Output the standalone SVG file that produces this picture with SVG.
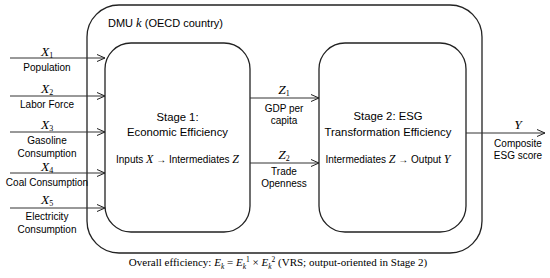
<svg xmlns="http://www.w3.org/2000/svg" width="550" height="278" viewBox="0 0 550 278">
<defs>
<marker id="arr" viewBox="0 0 10 10" refX="9" refY="5" markerWidth="10" markerHeight="10" markerUnits="userSpaceOnUse" orient="auto">
<path d="M1,1.5 L9,5 L1,8.5" fill="none" stroke="#222" stroke-width="1"/>
</marker>
</defs>
<style>
.box{fill:none;stroke:#222;stroke-width:1.3}
.ln{stroke:#333;stroke-width:1;fill:none;marker-end:url(#arr)}
.t{font-family:"Liberation Sans",Arial,sans-serif;fill:#000;text-anchor:middle}
.lab{font-size:10px}
.st{font-size:11.3px}
.m{font-family:"Liberation Serif","Times New Roman",serif;font-style:italic}
.sub{font-family:"Liberation Serif","Times New Roman",serif;font-style:normal;font-size:8px}
.cap{font-family:"Liberation Serif","Times New Roman",serif;font-size:11px;fill:#000;text-anchor:middle}
</style>
<g id="dmu">
<rect class="box" x="87" y="5" width="395" height="248" rx="32" ry="32"/>
<text class="t" x="108" y="27" style="text-anchor:start;font-size:11px">DMU <tspan class="m" font-size="12.5">k</tspan> (OECD country)</text>
</g>
<g id="stage1">
<rect class="box" x="105" y="43" width="145" height="189" rx="26" ry="26"/>
<text class="t st" x="177.5" y="121">Stage 1:</text>
<text class="t st" x="177.5" y="136">Economic Efficiency</text>
<text class="t" x="177.5" y="163" font-size="10">Inputs <tspan class="m" font-size="12">X</tspan> → Intermediates <tspan class="m" font-size="12">Z</tspan></text>
</g>
<g id="stage2">
<rect class="box" x="319" y="43" width="147" height="189" rx="26" ry="26"/>
<text class="t st" x="388" y="120">Stage 2: ESG</text>
<text class="t st" x="388" y="136">Transformation Efficiency</text>
<text class="t" x="388" y="163" font-size="10">Intermediates <tspan class="m" font-size="12">Z</tspan> → Output <tspan class="m" font-size="12">Y</tspan></text>
</g>
<g id="connectors">
<line class="ln" x1="10" y1="58" x2="105" y2="58"/>
<line class="ln" x1="10" y1="96" x2="105" y2="96"/>
<line class="ln" x1="10" y1="132" x2="105" y2="132"/>
<line class="ln" x1="10" y1="173" x2="105" y2="173"/>
<line class="ln" x1="10" y1="208" x2="105" y2="208"/>
<line class="ln" x1="250" y1="98" x2="319" y2="98"/>
<line class="ln" x1="250" y1="163" x2="319" y2="163"/>
<line class="ln" x1="466" y1="133" x2="545" y2="133"/>
</g>
<g id="input-labels">
<text class="t" x="47" y="56"><tspan class="m" font-size="13.5">X</tspan><tspan class="sub" dy="2">1</tspan></text>
<text class="t lab" x="47" y="71">Population</text>
<text class="t" x="47" y="93"><tspan class="m" font-size="13.5">X</tspan><tspan class="sub" dy="2">2</tspan></text>
<text class="t lab" x="47" y="108">Labor Force</text>
<text class="t" x="47" y="129"><tspan class="m" font-size="13.5">X</tspan><tspan class="sub" dy="2">3</tspan></text>
<text class="t lab" x="47" y="144">Gasoline</text>
<text class="t lab" x="47" y="157">Consumption</text>
<text class="t" x="47" y="171"><tspan class="m" font-size="13.5">X</tspan><tspan class="sub" dy="2">4</tspan></text>
<text class="t lab" x="47" y="186">Coal Consumption</text>
<text class="t" x="47" y="204"><tspan class="m" font-size="13.5">X</tspan><tspan class="sub" dy="2">5</tspan></text>
<text class="t lab" x="47" y="220">Electricity</text>
<text class="t lab" x="47" y="233">Consumption</text>
</g>
<g id="mid-labels">
<text class="t" x="284" y="94"><tspan class="m" font-size="13.5">Z</tspan><tspan class="sub" dy="2">1</tspan></text>
<text class="t lab" x="284" y="112">GDP per</text>
<text class="t lab" x="284" y="124">capita</text>
<text class="t" x="284" y="159"><tspan class="m" font-size="13.5">Z</tspan><tspan class="sub" dy="2">2</tspan></text>
<text class="t lab" x="284" y="175">Trade</text>
<text class="t lab" x="284" y="187">Openness</text>
</g>
<g id="output-labels">
<text class="t" x="518" y="129"><tspan class="m" font-size="13.5">Y</tspan></text>
<text class="t lab" x="518" y="147">Composite</text>
<text class="t lab" x="518" y="159">ESG score</text>
</g>
<text class="cap" x="278" y="266">Overall efficiency: <tspan font-style="italic">E</tspan><tspan font-style="italic" font-size="7.5" dy="2.5">k</tspan><tspan dy="-2.5"> = </tspan><tspan font-style="italic">E</tspan><tspan font-style="italic" font-size="7.5" dy="2.5">k</tspan><tspan font-size="7.5" dy="-7">1</tspan><tspan dy="4.5"> × </tspan><tspan font-style="italic">E</tspan><tspan font-style="italic" font-size="7.5" dy="2.5">k</tspan><tspan font-size="7.5" dy="-7">2</tspan><tspan dy="4.5"> (VRS; output-oriented in Stage 2)</tspan></text>
</svg>
